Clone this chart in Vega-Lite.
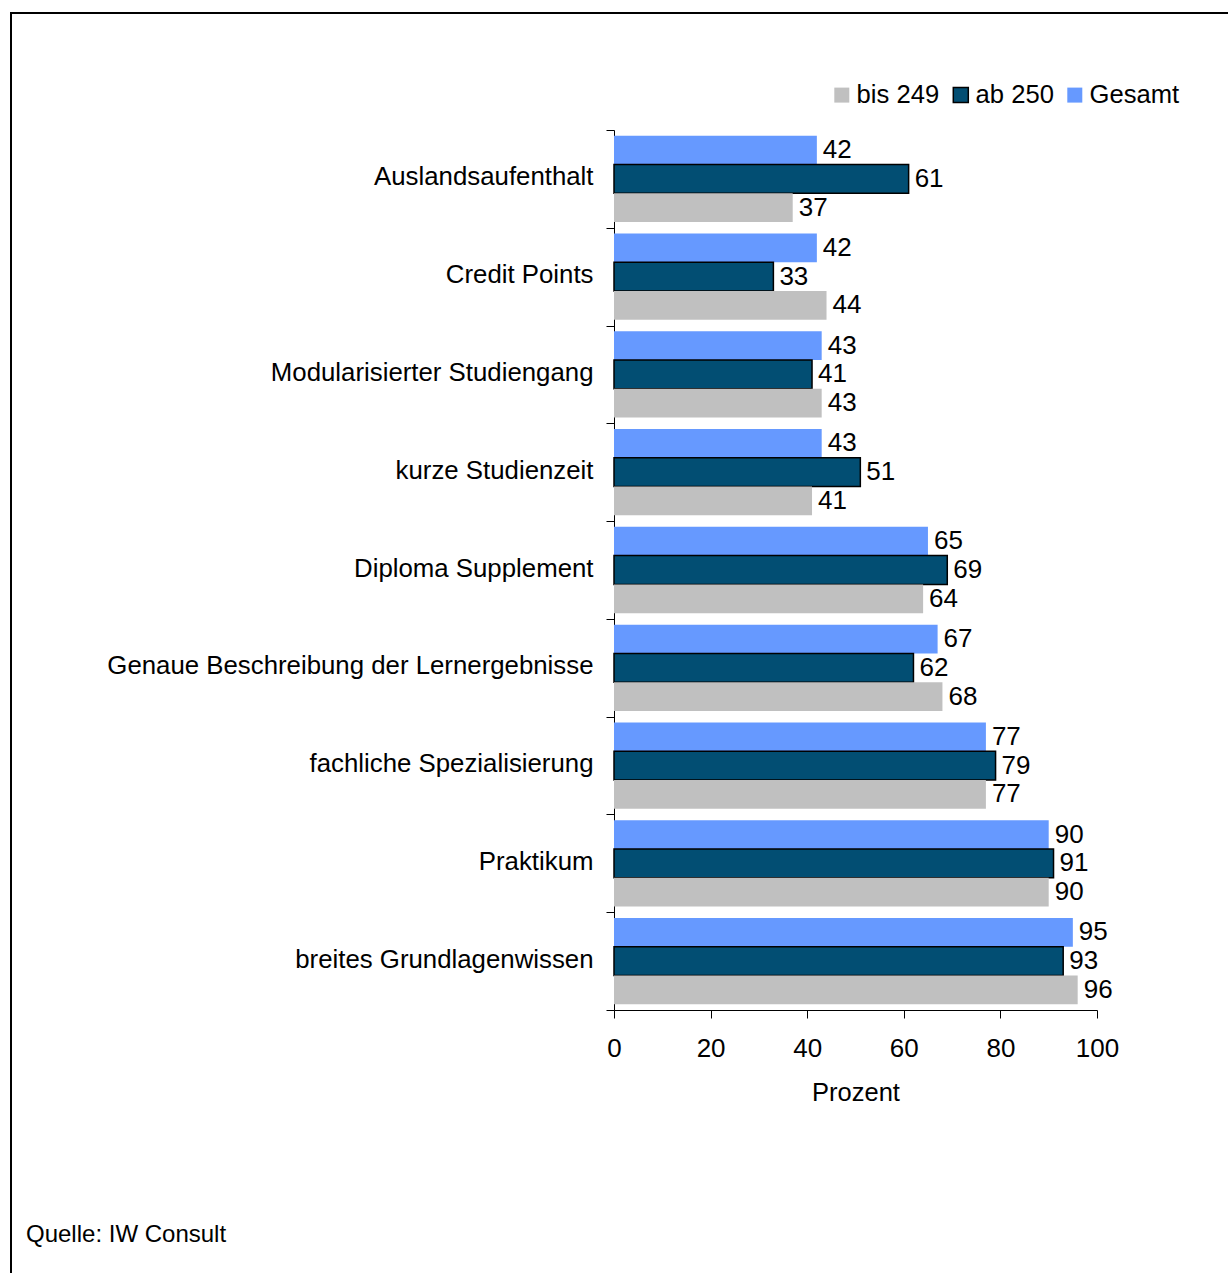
{
  "$schema": "https://vega.github.io/schema/vega-lite/v6.json",
  "width": 1230,
  "height": 1280,
  "autosize": {"type": "none"},
  "padding": {"left": 11, "top": 13, "right": 0, "bottom": 0},
  "background": "white",
  "config": {
    "view": {"stroke": "black", "strokeWidth": 2},
    "font": "Liberation Sans",
    "axis": {"labelFont": "Liberation Sans", "titleFont": "Liberation Sans"},
    "legend": {"labelFont": "Liberation Sans"}
  },
  "title": {
    "text": "Quelle: IW Consult",
    "orient": "bottom",
    "anchor": "start",
    "frame": "group",
    "offset": -70,
    "dx": 15,
    "fontSize": 24,
    "fontWeight": "normal",
    "color": "black",
    "font": "Liberation Sans"
  },
  "data": {
    "values": [
      {"item": "Auslandsaufenthalt", "group": "Gesamt", "value": 42},
      {"item": "Auslandsaufenthalt", "group": "ab 250", "value": 61},
      {"item": "Auslandsaufenthalt", "group": "bis 249", "value": 37},
      {"item": "Credit Points", "group": "Gesamt", "value": 42},
      {"item": "Credit Points", "group": "ab 250", "value": 33},
      {"item": "Credit Points", "group": "bis 249", "value": 44},
      {"item": "Modularisierter Studiengang", "group": "Gesamt", "value": 43},
      {"item": "Modularisierter Studiengang", "group": "ab 250", "value": 41},
      {"item": "Modularisierter Studiengang", "group": "bis 249", "value": 43},
      {"item": "kurze Studienzeit", "group": "Gesamt", "value": 43},
      {"item": "kurze Studienzeit", "group": "ab 250", "value": 51},
      {"item": "kurze Studienzeit", "group": "bis 249", "value": 41},
      {"item": "Diploma Supplement", "group": "Gesamt", "value": 65},
      {"item": "Diploma Supplement", "group": "ab 250", "value": 69},
      {"item": "Diploma Supplement", "group": "bis 249", "value": 64},
      {"item": "Genaue Beschreibung der Lernergebnisse", "group": "Gesamt", "value": 67},
      {"item": "Genaue Beschreibung der Lernergebnisse", "group": "ab 250", "value": 62},
      {"item": "Genaue Beschreibung der Lernergebnisse", "group": "bis 249", "value": 68},
      {"item": "fachliche Spezialisierung", "group": "Gesamt", "value": 77},
      {"item": "fachliche Spezialisierung", "group": "ab 250", "value": 79},
      {"item": "fachliche Spezialisierung", "group": "bis 249", "value": 77},
      {"item": "Praktikum", "group": "Gesamt", "value": 90},
      {"item": "Praktikum", "group": "ab 250", "value": 91},
      {"item": "Praktikum", "group": "bis 249", "value": 90},
      {"item": "breites Grundlagenwissen", "group": "Gesamt", "value": 95},
      {"item": "breites Grundlagenwissen", "group": "ab 250", "value": 93},
      {"item": "breites Grundlagenwissen", "group": "bis 249", "value": 96}
    ]
  },
  "encoding": {
    "y": {
      "field": "item",
      "type": "nominal",
      "sort": ["Auslandsaufenthalt", "Credit Points", "Modularisierter Studiengang", "kurze Studienzeit", "Diploma Supplement", "Genaue Beschreibung der Lernergebnisse", "fachliche Spezialisierung", "Praktikum", "breites Grundlagenwissen"],
      "scale": {"range": [117, 997], "paddingInner": 0, "paddingOuter": 0},
      "axis": {
        "title": null,
        "orient": "left",
        "offset": -603,
        "tickBand": "extent",
        "tickSize": 8,
        "tickColor": "black",
        "domainColor": "black",
        "labelPadding": 13,
        "labelFontSize": 25.8,
        "labelColor": "black",
        "labelLimit": 0,
        "labelOffset": -2
      }
    },
    "yOffset": {
      "field": "group",
      "type": "nominal",
      "sort": ["Gesamt", "ab 250", "bis 249"],
      "scale": {"paddingInner": 0, "paddingOuter": 0.2}
    },
    "x": {
      "field": "value",
      "type": "quantitative",
      "scale": {"domain": [0, 100], "range": [603, 1086], "nice": false, "zero": true},
      "axis": {
        "orient": "bottom",
        "offset": -283,
        "values": [0, 20, 40, 60, 80, 100],
        "grid": false,
        "tickSize": 8,
        "tickColor": "black",
        "domainColor": "black",
        "labelPadding": 17,
        "labelFontSize": 26,
        "labelColor": "black",
        "labelFlush": false,
        "labelOverlap": false,
        "title": "Prozent",
        "titleFontSize": 25.5,
        "titleFontWeight": "normal",
        "titleColor": "black",
        "titlePadding": 19
      }
    }
  },
  "layer": [
    {
      "mark": {"type": "bar", "strokeWidth": 1.5},
      "encoding": {
        "color": {
          "field": "group",
          "type": "nominal",
          "scale": {"domain": ["bis 249", "ab 250", "Gesamt"], "range": ["#C0C0C0", "#024E73", "#6699FF"]},
          "legend": {
            "title": null,
            "orient": "none",
            "legendX": 818,
            "legendY": 69,
            "direction": "horizontal",
            "symbolType": "square",
            "symbolSize": 225,
            "symbolStrokeWidth": 1.5,
            "labelFontSize": 25.6,
            "labelColor": "black",
            "labelOffset": 2,
            "columnPadding": 8,
            "padding": 0
          }
        },
        "stroke": {
          "field": "group",
          "type": "nominal",
          "scale": {"domain": ["bis 249", "ab 250", "Gesamt"], "range": ["rgba(0,0,0,0)", "black", "rgba(0,0,0,0)"]},
          "legend": {
            "title": null,
            "orient": "none",
            "legendX": 818,
            "legendY": 69,
            "direction": "horizontal",
            "symbolType": "square",
            "symbolSize": 225,
            "symbolStrokeWidth": 1.5,
            "labelFontSize": 25.6,
            "labelColor": "black",
            "labelOffset": 2,
            "columnPadding": 8,
            "padding": 0
          }
        }
      }
    },
    {
      "mark": {"type": "text", "align": "left", "baseline": "middle", "dx": 6, "fontSize": 26, "color": "black"},
      "encoding": {"text": {"field": "value", "type": "quantitative"}}
    }
  ]
}
